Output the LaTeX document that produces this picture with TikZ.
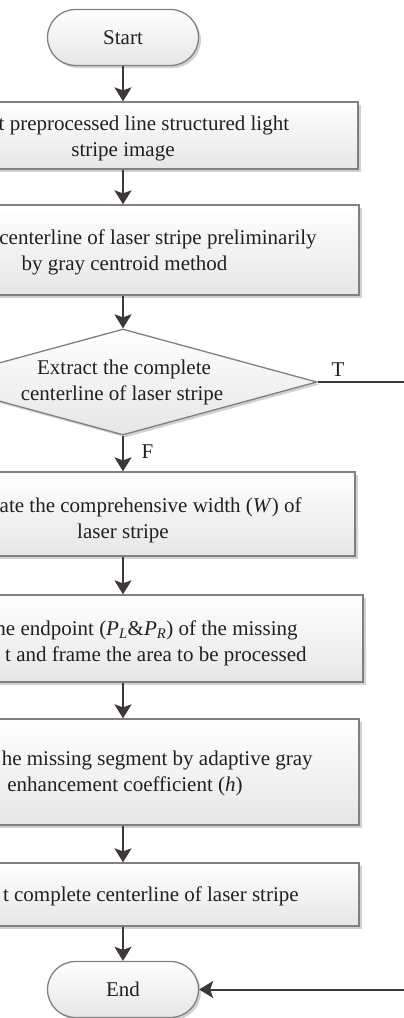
\documentclass[tikz,border=0pt]{standalone}
\usepackage{fontspec}
\setmainfont{Liberation Serif}
\usetikzlibrary{shapes.geometric,shadows,arrows.meta}
\definecolor{boxline}{RGB}{128,128,128}
\definecolor{boxfill}{RGB}{230,230,230}
\definecolor{arrline}{RGB}{62,56,56}
\definecolor{txt}{RGB}{35,31,32}
\tikzset{every picture/.style={line width=0.75pt}}
\tikzset{
  boxshade/.style={draw=boxline, line width=1.3, top color=white, bottom color=boxfill,
    drop shadow={shadow xshift=2.5pt, shadow yshift=-2.5pt, fill=black, opacity=0.18}},
  procbox/.style={boxshade, rectangle, inner sep=0pt},
  termbox/.style={boxshade, rectangle, rounded corners=28, inner sep=0pt,
    minimum width=151, minimum height=56, text=txt, font=\fontsize{21}{26}\selectfont},
  decbox/.style={boxshade, diamond, inner sep=0pt, minimum width=388, minimum height=106},
  flowarr/.style={draw=arrline, line width=2, -{Stealth[length=14pt,width=17pt,inset=3pt]}},
  lbl/.style={inner sep=0pt, text=txt, font=\fontsize{21}{26}\selectfont},
}
\begin{document}
\begin{tikzpicture}[x=1pt,y=1pt,yscale=-1,xscale=1]
\useasboundingbox (0,0) rectangle (404,1018);
\clip (0,0) rectangle (404,1018);

%Flowchart: Terminator
\node (start) [termbox] at (123,37.5) {Start};
%Flowchart: Process
\node (box1) [procbox, minimum width=470, minimum height=67] at (123,135.5) {};
%Flowchart: Process
\node (box2) [procbox, minimum width=472, minimum height=90] at (123,250) {};
%Flowchart: Decision
\node (dec) [decbox] at (123,382) {};
%Flowchart: Process
\node (box3) [procbox, minimum width=464, minimum height=84] at (123,514) {};
%Flowchart: Process
\node (box4) [procbox, minimum width=480, minimum height=87] at (123,638.5) {};
%Flowchart: Process
\node (box5) [procbox, minimum width=472, minimum height=106] at (123,772) {};
%Flowchart: Process
\node (box6) [procbox, minimum width=472, minimum height=63] at (123,894.5) {};
%Flowchart: Terminator
\node (end) [termbox] at (123,989.5) {End};

%Straight Lines
\draw [flowarr] (start) -- (box1);
\draw [flowarr] (box1) -- (box2);
\draw [flowarr] (box2) -- (dec);
\draw [flowarr] (dec) -- (box3);
\draw [flowarr] (box3) -- (box4);
\draw [flowarr] (box4) -- (box5);
\draw [flowarr] (box5) -- (box6);
\draw [flowarr] (box6) -- (end);
%Connector: true branch
\coordinate (turn) at (440,382);
\draw [flowarr] (dec.east) -- (turn) |- (end.east);

% Text Node
\node (t1a) [lbl, anchor=base east] at (289.5,130) {t preprocessed line structured light};
% Text Node
\node (t1b) [lbl, anchor=base] at (123,156) {stripe image};
% Text Node
\node (t2a) [lbl, anchor=base east] at (317,244.5) {centerline of laser stripe preliminarily};
% Text Node
\node (t2b) [lbl, anchor=base] at (124.5,270.5) {by gray centroid method};
% Text Node
\node (td1) [lbl, anchor=base] at (124,374) {Extract the complete};
% Text Node
\node (td2) [lbl, anchor=base] at (122,400) {centerline of laser stripe};
% Text Node
\node (tT) [lbl, anchor=base] at (338,376) {T};
% Text Node
\node (tF) [lbl, anchor=base] at (147.5,458) {F};
% Text Node
\node (t3a) [lbl, anchor=base east] at (302,512) {ate the comprehensive width (\textit{W}) of};
% Text Node
\node (t3b) [lbl, anchor=base] at (123,538) {laser stripe};
% Text Node
\node (t4a) [lbl, anchor=base east] at (298,635) {he endpoint (\textit{P}\textsubscript{\textit{L}}\&\textit{P}\textsubscript{\textit{R}}) of the missing};
% Text Node
\node (t4b) [lbl, anchor=base east] at (307,661) {t and frame the area to be processed};
% Text Node
\node (t5a) [lbl, anchor=base east] at (313,765) {he missing segment by adaptive gray};
% Text Node
\node (t5b) [lbl, anchor=base] at (125,791) {enhancement coefficient (\textit{h})};
% Text Node
\node (t6a) [lbl, anchor=base east] at (299,901) {t complete centerline of laser stripe};

\end{tikzpicture}
\end{document}
